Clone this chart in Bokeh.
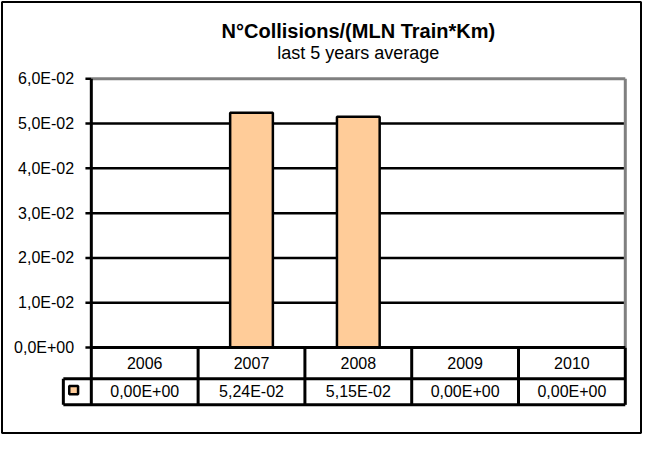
from bokeh.plotting import figure
from bokeh.models import Range1d
from bokeh.core.properties import value
from bokeh.embed import file_html
from bokeh.resources import INLINE

# ---- data ----
years = [2006, 2007, 2008, 2009, 2010]
year_labels = ["2006", "2007", "2008", "2009", "2010"]
values = [0.0, 0.0524, 0.0515, 0.0, 0.0]
y_ticks = [0.0, 0.01, 0.02, 0.03, 0.04, 0.05, 0.06]
title_text = "N°Collisions/(MLN Train*Km)"
subtitle_text = "last 5 years average"

value_labels = [f"{v:.2E}".replace(".", ",") for v in values]
tick_labels = [f"{t:.1E}".replace(".", ",") for t in y_ticks]

# ---- layout (screen pixels, top-down) ----
W, H = 642, 434
FONT = value("Liberation Sans")


def X(xr):
    return 1.5 + (xr - 4) * (639 / 651)


def Y(yr):
    return 1.5 + (yr - 4) * (431 / 444)


PL, PR = X(95), X(639)
PT, PB = Y(83), Y(360)
R1, R2 = Y(392), Y(419)
KL = X(66.5)

p = figure(width=W, height=H, x_range=Range1d(0, W), y_range=Range1d(H, 0),
           output_backend="svg", toolbar_location=None, min_border=0,
           x_axis_type=None, y_axis_type=None, outline_line_color=None,
           background_fill_color="white", border_fill_color="white")

# category range: each year one unit wide across the plot area
lo = years[0] - 0.5
hi = years[-1] + 0.5
m = (hi - lo) / (PR - PL)
p.extra_x_ranges = {"yr": Range1d(start=lo - PL * m, end=lo + (W - PL) * m)}
ymax = y_ticks[-1]
k = ymax / (PB - PT)
p.extra_y_ranges = {"val": Range1d(start=(PB - H) * k, end=PB * k)}

# gridlines
inner = y_ticks[1:-1]
p.segment(x0=[lo] * len(inner), x1=[hi] * len(inner), y0=inner, y1=inner,
          x_range_name="yr", y_range_name="val", line_color="black", line_width=2.5)
# top / right plot-area border (gray)
p.segment(x0=[lo, hi], x1=[hi, hi], y0=[ymax, 0], y1=[ymax, ymax],
          x_range_name="yr", y_range_name="val", line_color="#808080", line_width=3)

# bars
p.vbar(x=years, top=values, bottom=0, width=0.4, x_range_name="yr", y_range_name="val",
       fill_color="#FFCC99", line_color="black", line_width=2.5)

# tick marks and labels
p.segment(x0=[X(89)] * len(y_ticks), x1=[PL] * len(y_ticks), y0=y_ticks, y1=y_ticks,
          y_range_name="val", line_color="black", line_width=2.5)
p.text(x=[X(77.5)] * len(y_ticks), y=y_ticks, text=tick_labels, y_range_name="val",
       text_align="right", text_baseline="middle", text_font=FONT,
       text_font_size="16px", text_color="black")

# axis line (continues as left edge of table)
p.segment(x0=[PL], x1=[PL], y0=[PT], y1=[R2], line_color="black", line_width=3)

# table lines
p.segment(x0=[PL, KL, KL], x1=[PR, PR, PR], y0=[PB, R1, R2], y1=[PB, R1, R2],
          line_color="black", line_width=3)
p.segment(x0=[KL, PR], x1=[KL, PR], y0=[R1, PB], y1=[R2, R2],
          line_color="black", line_width=3)
bounds = [y + 0.5 for y in years[:-1]]
p.segment(x0=bounds, x1=bounds, y0=[PB] * len(bounds), y1=[R2] * len(bounds),
          x_range_name="yr", line_color="black", line_width=3)

# table texts
p.text(x=years, y=[(PB + R1) / 2] * len(years), text=year_labels, x_range_name="yr",
       text_align="center", text_baseline="middle", text_font=FONT,
       text_font_size="16px", text_color="black")
p.text(x=years, y=[(R1 + R2) / 2] * len(years), text=value_labels, x_range_name="yr",
       text_align="center", text_baseline="middle", text_font=FONT,
       text_font_size="16px", text_color="black")

# legend key
p.quad(left=[X(72.5)], right=[X(81.5)], top=[Y(399.5)], bottom=[Y(408)],
       fill_color="#FFCC99", line_color="black", line_width=2.5)

# titles
cx = (PL + PR) / 2
p.text(x=[cx], y=[Y(34)], text=[title_text], text_align="center", text_baseline="middle",
       text_font=FONT, text_font_style="bold", text_font_size="20px", text_color="black")
p.text(x=[cx], y=[Y(57)], text=[subtitle_text], text_align="center", text_baseline="middle",
       text_font=FONT, text_font_size="18px", text_color="black")

# outer border
p.quad(left=[1.5], right=[W - 1.5], top=[1.5], bottom=[H - 1.5],
       fill_color=None, line_color="black", line_width=2)

open("out.html", "w").write(file_html(p, INLINE))
